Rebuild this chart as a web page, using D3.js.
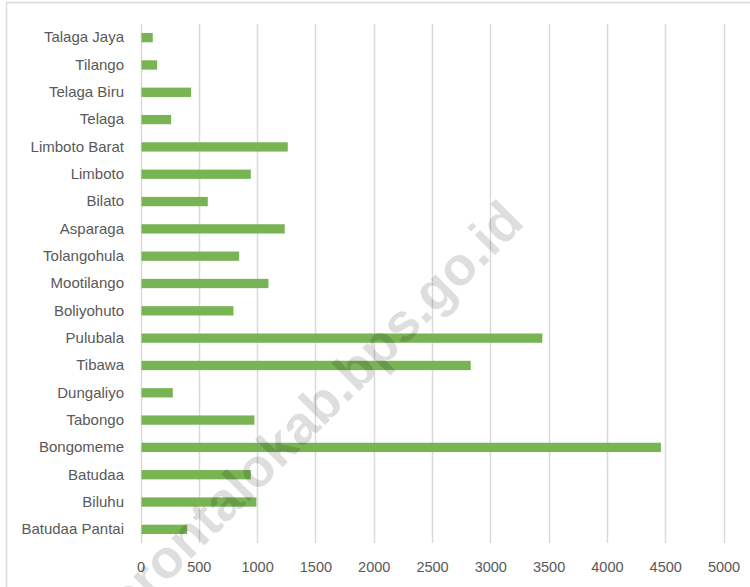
<!DOCTYPE html>
<html><head><meta charset="utf-8">
<script src="https://cdn.jsdelivr.net/npm/d3@7"></script>
<style>body{margin:0;background:#fff}svg{display:block}</style>
</head><body>
<script>
const categories = ["Talaga Jaya","Tilango","Telaga Biru","Telaga","Limboto Barat","Limboto","Bilato","Asparaga","Tolangohula","Mootilango","Boliyohuto","Pulubala","Tibawa","Dungaliyo","Tabongo","Bongomeme","Batudaa","Biluhu","Batudaa Pantai"];
const values = [105,143,434,263,1263,946,577,1237,846,1097,797,3446,2832,277,977,4463,946,994,400];
const ticks = [0,500,1000,1500,2000,2500,3000,3500,4000,4500,5000];
const watermark = "gorontalokab.bps.go.id";

const W = 750, H = 587;
const svg = d3.select("body").append("svg").attr("width", W).attr("height", H);
svg.append("rect").attr("x",6.5).attr("y",2.5).attr("width",W).attr("height",H).attr("fill","#fff").attr("stroke","#d9d9d9").attr("stroke-width",1.5);

const x = d3.scaleLinear().domain([0,5000]).range([140.5,723.5]);
const y = d3.scaleBand().domain(categories).range([24,543]).paddingInner(0.66).paddingOuter(0.33);

const font = "'Liberation Sans', Arial, sans-serif";
const grid = svg.append("g");
grid.selectAll("line").data(ticks).join("line")
  .attr("x1", d=>Math.round(x(d))+0.5).attr("x2", d=>Math.round(x(d))+0.5)
  .attr("y1",24).attr("y2",543).attr("stroke","#d9d9d9").attr("stroke-width",1.5);

svg.append("g").selectAll("rect").data(values).join("rect")
  .attr("x", x(0)+1).attr("y",(d,i)=>y(categories[i]))
  .attr("width", d=>x(d)-x(0)-1).attr("height", y.bandwidth())
  .attr("fill","#78b354");

const xAxis = d3.axisBottom(x).tickValues(ticks).tickSize(0).tickPadding(0).tickFormat(d3.format("d"));
const gx = svg.append("g").attr("transform","translate(0,561)").call(xAxis);
gx.select(".domain").remove();
gx.selectAll("text").attr("fill","#595959").attr("font-size","14.5px").attr("font-family",font).attr("dy","0.75em");

const yAxis = d3.axisLeft(y).tickSize(0).tickPadding(0);
const gy = svg.append("g").attr("transform","translate(124,0)").call(yAxis);
gy.select(".domain").remove();
gy.selectAll("text").attr("fill","#595959").attr("font-size","15px").attr("font-family",font);

svg.append("text").text(watermark)
  .attr("transform","translate(305,425) rotate(-45)")
  .attr("text-anchor","middle").attr("dominant-baseline","middle")
  .attr("font-family","'Liberation Sans', Arial, sans-serif").attr("font-weight","bold")
  .attr("font-size","54px").attr("fill","rgba(0,0,0,0.13)");
</script>
</body></html>
